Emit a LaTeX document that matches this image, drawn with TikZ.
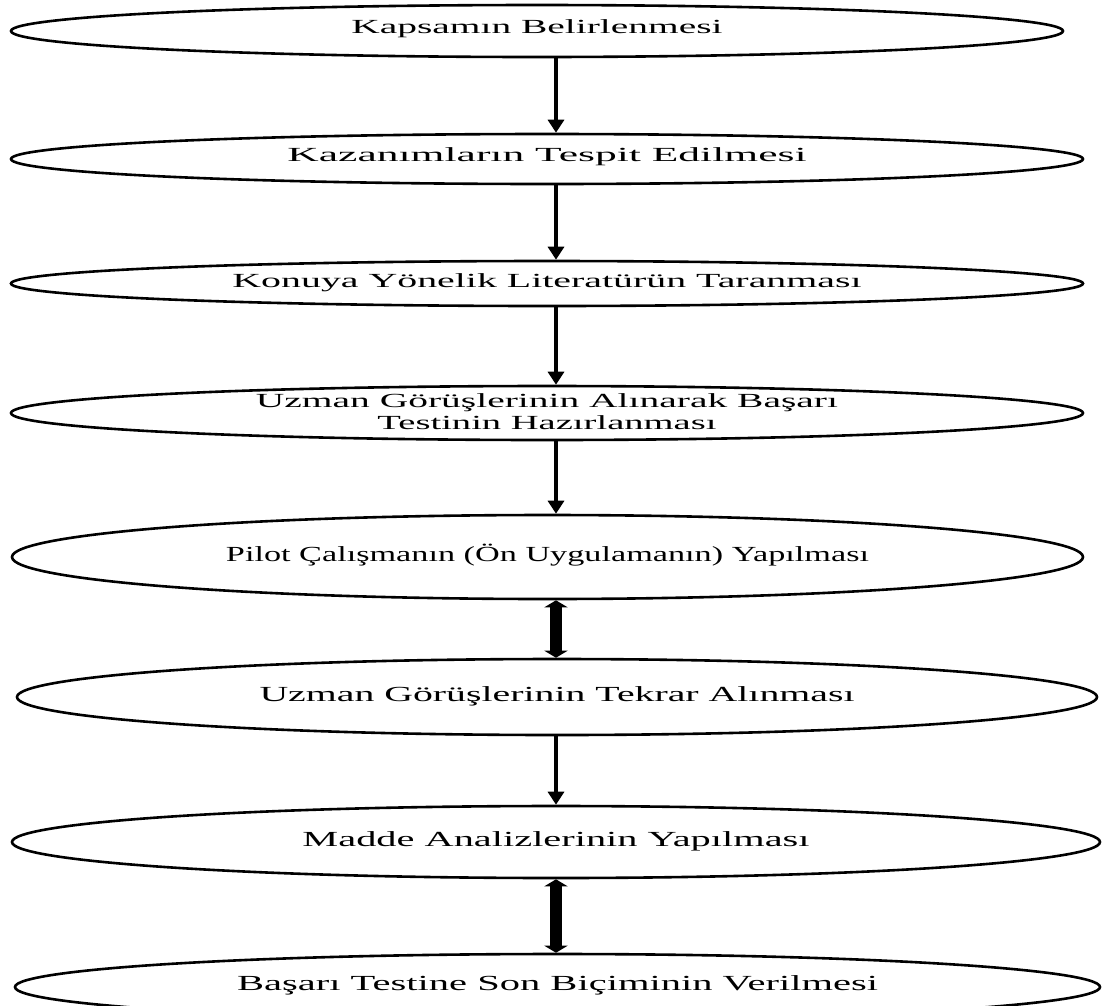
\documentclass[tikz,border=0pt]{standalone}
\usepackage{fontspec}
\setmainfont{Liberation Serif}
\usetikzlibrary{shapes.geometric,arrows.meta}
\newcommand{\wtext}[2]{\resizebox{#1pt}{\height}{#2}}
\begin{document}
\begin{tikzpicture}[x=1pt,y=-1pt,
  oval/.style={draw, ellipse, line width=2.6pt, inner sep=0pt},
  lbl/.style={inner sep=0pt, font=\fontsize{20}{25}\selectfont},
  lblbig/.style={inner sep=0pt, font=\fontsize{21.5}{25}\selectfont},
  flow/.style={line width=4pt, -{Triangle[width=16pt,length=13pt]}},
  bigflow/.style={line width=12pt, {Triangle[width=23pt,length=7pt]}-{Triangle[width=23pt,length=7pt]}}]
\path[use as bounding box, clip] (0,0) rectangle (1103,1005);
\fill[white] (0,0) rectangle (1103,1005);
\coordinate (axis) at (556,0);
\node[oval, minimum width=1052pt, minimum height=52pt] (e1) at (537,31) {};
\node[oval, minimum width=1072pt, minimum height=50pt] (e2) at (547,159) {};
\node[oval, minimum width=1072pt, minimum height=45pt] (e3) at (547,283.5) {};
\node[oval, minimum width=1072pt, minimum height=54pt] (e4) at (547,413) {};
\node[oval, minimum width=1071pt, minimum height=84pt] (e5) at (547.5,557) {};
\node[oval, minimum width=1080pt, minimum height=76pt] (e6) at (557,697) {};
\node[oval, minimum width=1088pt, minimum height=72pt] (e7) at (556,842) {};
\node[oval, minimum width=1085pt, minimum height=66pt] (e8) at (557.5,987) {};
\node[lbl] (t1) at ([yshift=2pt]e1.center) {\wtext{371}{Kapsamın Belirlenmesi}};
\node[lbl] (t2) at ([yshift=2pt]e2.center) {\wtext{519}{Kazanımların Tespit Edilmesi}};
\node[lbl] (t3) at ([yshift=1pt]e3.center) {\wtext{629}{Konuya Yönelik Literatürün Taranması}};
\node[lbl, align=center] (t4) at ([yshift=1pt]e4.center) {\wtext{582}{Uzman Görüşlerinin Alınarak Başarı}\\[-3pt]\wtext{339}{Testinin Hazırlanması}};
\node[lblbig] (t5) at ([yshift=2pt]e5.center) {\wtext{643}{Pilot Çalışmanın (Ön Uygulamanın) Yapılması}};
\node[lblbig] (t6) at ([yshift=1pt]e6.center) {\wtext{595}{Uzman Görüşlerinin Tekrar Alınması}};
\node[lblbig] (t7) at ([yshift=1pt]e7.center) {\wtext{507}{Madde Analizlerinin Yapılması}};
\node[lblbig] (t8) at ([yshift=2pt]e8.center) {\wtext{641}{Başarı Testine Son Biçiminin Verilmesi}};
\draw[flow] (e1.south -| axis) -- (e2.north -| axis);
\draw[flow] (e2.south -| axis) -- (e3.north -| axis);
\draw[flow] (e3.south -| axis) -- (e4.north -| axis);
\draw[flow] (e4.south -| axis) -- (e5.north -| axis);
\draw[bigflow] (e5.south -| axis) -- (e6.north -| axis);
\draw[flow] (e6.south -| axis) -- (e7.north -| axis);
\draw[bigflow] (e7.south -| axis) -- (e8.north -| axis);
\end{tikzpicture}
\end{document}
